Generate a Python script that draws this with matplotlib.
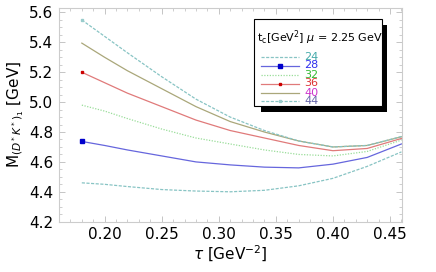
import numpy as np
import matplotlib
matplotlib.use("Agg")
from matplotlib import pyplot as plt
from matplotlib.lines import Line2D
from matplotlib.patches import Rectangle
from matplotlib.ticker import MultipleLocator

# tau values
tau = [0.18, 0.20, 0.22, 0.25, 0.28, 0.31, 0.34, 0.37, 0.40, 0.43, 0.46]

# mass curves for each threshold t_c
m24 = [4.46, 4.45, 4.435, 4.415, 4.405, 4.40, 4.41, 4.44, 4.49, 4.57, 4.667]
m28 = [4.737, 4.71, 4.68, 4.64, 4.60, 4.58, 4.565, 4.56, 4.585, 4.63, 4.72]
m32 = [4.98, 4.94, 4.89, 4.82, 4.76, 4.72, 4.68, 4.65, 4.64, 4.67, 4.746]
m36 = [5.20, 5.13, 5.06, 4.97, 4.88, 4.81, 4.76, 4.71, 4.675, 4.69, 4.757]
m40 = [5.395, 5.30, 5.21, 5.09, 4.97, 4.87, 4.80, 4.74, 4.70, 4.71, 4.768]
m44 = [5.55, 5.44, 5.33, 5.17, 5.02, 4.90, 4.81, 4.74, 4.70, 4.71, 4.77]

labels = ["24", "28", "32", "36", "40", "44"]
label_colors = ["#44aaaa", "#3030ee", "#33bb33", "#dd3333", "#cc33cc", "#6666aa"]

fig = plt.figure(figsize=(4.36, 2.72), dpi=100)
ax = fig.add_axes([0.1353, 0.185, 0.7867, 0.7856])

teal = "#88c4c4"
styles = [
    dict(color=teal, ls=(0, (2.5, 1.2)), marker=None),
    dict(color="#6666dd", ls="-", marker="s", ms=2.5, mfc="#0000cc", mec="#0000cc"),
    dict(color="#99dd99", ls=(0, (1, 1.2)), marker=None),
    dict(color="#e07a7a", ls="-", marker="s", ms=1.5, mfc="#cc0000", mec="#cc0000"),
    dict(color="#aaa77a", ls="-", marker=None),
    dict(color=teal, ls=(0, (2.5, 1.2)), marker="s", ms=2, mfc="#99cccc", mec="#99cccc"),
]
series = [m24, m28, m32, m36, m40, m44]

for y, st in zip(series, styles):
    ax.plot(tau, y, color=st["color"], ls=st["ls"], lw=0.9,
            marker=st["marker"], markevery=[0], ms=st.get("ms", 0),
            mfc=st.get("mfc"), mec=st.get("mec"))

ax.set_xlim(0.16, 0.4605)
ax.set_ylim(4.2, 5.63)
ax.xaxis.set_major_locator(MultipleLocator(0.05))
ax.xaxis.set_minor_locator(MultipleLocator(0.01))
ax.yaxis.set_major_locator(MultipleLocator(0.2))
ax.yaxis.set_minor_locator(MultipleLocator(0.05))
ax.xaxis.set_major_formatter(matplotlib.ticker.FormatStrFormatter("%.2f"))
ax.yaxis.set_major_formatter(matplotlib.ticker.FormatStrFormatter("%.1f"))
ax.tick_params(which="both", direction="in", top=True, right=True, color="#bbbbbb",
               labelsize=11, pad=4)
ax.tick_params(which="major", length=4, width=0.6)
ax.tick_params(which="minor", length=2, width=0.5)
for sp in ax.spines.values():
    sp.set_color("#cccccc")
    sp.set_linewidth(0.8)

ax.set_xlabel(r"$\tau$ [GeV$^{-2}$]", fontsize=11, labelpad=1)
ax.set_ylabel(r"M$_{(D^*K^*)_1}$ [GeV]", fontsize=11, labelpad=2)

# legend box with shadow, drawn in figure pixels
def fx(px):
    return px / 436.0

def fy(py):
    return 1 - py / 272.0

fig.patches.append(Rectangle((fx(261), fy(112)), fx(387) - fx(261), fy(25) - fy(112),
                             transform=fig.transFigure, facecolor="black",
                             edgecolor="none", zorder=5))
fig.patches.append(Rectangle((fx(254), fy(106)), fx(382) - fx(254), fy(19) - fy(106),
                             transform=fig.transFigure, facecolor="white",
                             edgecolor="black", lw=0.8, zorder=6))
fig.text(fx(257), fy(38), r"t$_\mathrm{c}$[GeV$^2$] $\mu$ = 2.25 GeV", fontsize=8,
         va="center", ha="left", zorder=7)
rows = [56.5, 65.5, 74.5, 83.5, 92.5, 101]
for lab, lc, st, r in zip(labels, label_colors, styles, rows):
    ln = Line2D([fx(261), fx(280), fx(299)], [fy(r)] * 3, transform=fig.transFigure,
                color=st["color"], ls=st["ls"], lw=0.9, marker=st["marker"],
                markevery=[1], ms=st.get("ms", 0), mfc=st.get("mfc"), mec=st.get("mec"),
                zorder=7)
    fig.lines.append(ln)
    fig.text(fx(304), fy(r), lab, color=lc, fontsize=8, va="center", ha="left", zorder=7)

fig.savefig("out.png", dpi=100)
